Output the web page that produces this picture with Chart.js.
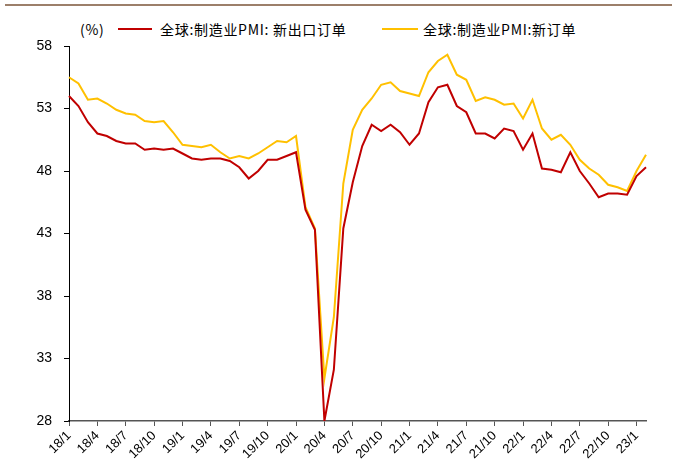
<!DOCTYPE html>
<html>
<head>
<meta charset="utf-8">
<script src="https://cdn.jsdelivr.net/npm/chart.js@4.4.1/dist/chart.umd.min.js"></script>
<style>
  html, body { margin: 0; padding: 0; background: #fff; }
  #wrap { position: relative; width: 678px; height: 472px; overflow: hidden; }
  #topRule { position: absolute; left: 5px; top: 4px; width: 667px; height: 2px; background: #9c7f6a; }
  .lg { position: absolute; top: 20px; font-family: "Noto Sans CJK SC", sans-serif; font-size: 14px; line-height: 18px; color: #000; white-space: nowrap; letter-spacing: 0.7px; }
  .sw { position: absolute; top: 28px; height: 2px; }
  canvas { position: absolute; left: 0; top: 0; }
</style>
</head>
<body>
<div id="wrap">
  <div id="topRule"></div>
  <div class="lg" style="left:80px">(%)</div>
  <div class="sw" id="sw0" style="left:118px;width:34px"></div>
  <div class="lg" id="lb0" style="left:160px"></div>
  <div class="sw" id="sw1" style="left:382px;width:36px"></div>
  <div class="lg" id="lb1" style="left:423px"></div>
  <canvas id="c" width="678" height="472"></canvas>
</div>
<script>
// Month labels, Jan 2018 to Feb 2023
const months = [
  '18/1','18/2','18/3','18/4','18/5','18/6','18/7','18/8','18/9','18/10','18/11','18/12',
  '19/1','19/2','19/3','19/4','19/5','19/6','19/7','19/8','19/9','19/10','19/11','19/12',
  '20/1','20/2','20/3','20/4','20/5','20/6','20/7','20/8','20/9','20/10','20/11','20/12',
  '21/1','21/2','21/3','21/4','21/5','21/6','21/7','21/8','21/9','21/10','21/11','21/12',
  '22/1','22/2','22/3','22/4','22/5','22/6','22/7','22/8','22/9','22/10','22/11','22/12',
  '23/1','23/2'
];

// Series names
const seriesNames = ['全球:制造业PMI: 新出口订单', '全球:制造业PMI:新订单'];
const seriesColors = ['#C00000', '#FFC000'];

// Global manufacturing PMI: new export orders (%)
const newExportOrders = [
  54.0, 53.2, 51.9, 51.0, 50.8, 50.4, 50.2, 50.2, 49.7, 49.8, 49.7, 49.8,
  49.4, 49.0, 48.9, 49.0, 49.0, 48.8, 48.3, 47.4, 48.0, 48.9, 48.9, 49.2,
  49.5, 44.9, 43.3, 28.0, 32.1, 43.4, 47.1, 50.0, 51.7, 51.2, 51.7, 51.1,
  50.1, 51.0, 53.5, 54.7, 54.9, 53.2, 52.7, 51.0, 51.0, 50.6, 51.4, 51.2,
  49.7, 51.0, 48.2, 48.1, 47.9, 49.5, 48.0, 47.0, 45.9, 46.2, 46.2, 46.1,
  47.6, 48.3
];

// Global manufacturing PMI: new orders (%)
const newOrders = [
  55.5, 55.0, 53.7, 53.8, 53.4, 52.9, 52.6, 52.5, 52.0, 51.9, 52.0, 51.1,
  50.1, 50.0, 49.9, 50.1, 49.5, 49.0, 49.2, 49.0, 49.4, 49.9, 50.4, 50.3,
  50.8, 45.1, 43.4, 31.4, 36.3, 47.0, 51.3, 52.9, 53.8, 54.9, 55.1, 54.4,
  54.2, 54.0, 55.9, 56.8, 57.3, 55.7, 55.3, 53.6, 53.9, 53.7, 53.3, 53.4,
  52.2, 53.7, 51.4, 50.5, 50.9, 50.1, 48.9, 48.2, 47.7, 46.9, 46.7, 46.4,
  48.0, 49.3
];

// Y axis range and step
const yMin = 28, yMax = 58, yStep = 5;

// Legend text and swatches
seriesNames.forEach((n, i) => {
  document.getElementById('lb' + i).textContent = n;
  document.getElementById('sw' + i).style.background = seriesColors[i];
});

new Chart(document.getElementById('c'), {
  type: 'line',
  data: {
    labels: months,
    datasets: [
      { label: seriesNames[0], data: newExportOrders, borderColor: seriesColors[0],
        borderWidth: 2, pointRadius: 0, tension: 0, fill: false },
      { label: seriesNames[1], data: newOrders, borderColor: seriesColors[1],
        borderWidth: 2, pointRadius: 0, tension: 0, fill: false }
    ]
  },
  options: {
    responsive: false,
    animation: false,
    events: [],
    layout: { padding: { top: 46, right: 32, left: 0, bottom: 0 } },
    plugins: { legend: { display: false }, tooltip: { enabled: false } },
    scales: {
      x: {
        type: 'category',
        offset: false,
        grid: { drawOnChartArea: false, drawTicks: true, tickLength: 5, color: '#555', lineWidth: 1 },
        border: { display: true, color: '#555', width: 1.5 },
        ticks: {
          autoSkip: false, minRotation: 45, maxRotation: 45, padding: 2,
          color: '#000', font: { family: '"Liberation Sans", Arial, sans-serif', size: 13 },
          callback: (v, i) => (i % 3 === 0 ? months[i] : null)
        },
        afterFit: s => { s.height = 51; }
      },
      y: {
        min: yMin, max: yMax,
        grid: { drawOnChartArea: false, drawTicks: true, tickLength: 5, color: '#000', lineWidth: 1 },
        border: { display: true, color: '#000', width: 1 },
        ticks: {
          stepSize: yStep, padding: 12, color: '#000',
          font: { family: '"Liberation Sans", Arial, sans-serif', size: 14 }
        },
        afterFit: s => { s.width = 69; }
      }
    }
  }
});
</script>
</body>
</html>
